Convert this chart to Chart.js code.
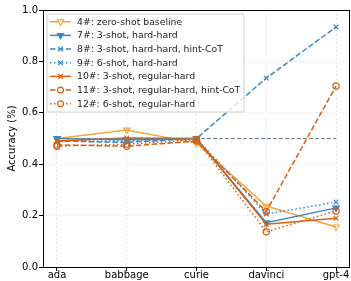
<!DOCTYPE html>
<html>
<head>
<meta charset="utf-8">
<script src="https://cdn.jsdelivr.net/npm/chart.js@4"></script>
<style>
  body { margin: 0; background: #fff; }
  #wrap { width: 351px; height: 281px; }
</style>
</head>
<body>
<div id="wrap"><canvas id="chart"></canvas></div>
<script>
// models on the x axis
const models = ['ada', 'babbage', 'curie', 'davinci', 'gpt-4']
const yTicks = [0, 0.2, 0.4, 0.6, 0.8, 1.0]

// accuracy per setting
const zeroShot = [0.50, 0.533, 0.482, 0.237, 0.156]
const hardHard3 = [0.50, 0.495, 0.50, 0.172, 0.23]
const hardHard3Cot = [0.49, 0.485, 0.50, 0.735, 0.934]
const hardHard6 = [0.49, 0.49, 0.50, 0.206, 0.253]
const regHard3 = [0.49, 0.502, 0.50, 0.166, 0.19]
const regHard3Cot = [0.475, 0.47, 0.49, 0.216, 0.704]
const regHard6 = [0.47, 0.478, 0.495, 0.137, 0.218]
const chance = [0.5, 0.5, 0.5, 0.5, 0.5]

const seriesNames = [
  '4#: zero-shot baseline',
  '7#: 3-shot, hard-hard',
  '8#: 3-shot, hard-hard, hint-CoT',
  '9#: 6-shot, hard-hard',
  '10#: 3-shot, regular-hard',
  '11#: 3-shot, regular-hard, hint-CoT',
  '12#: 6-shot, regular-hard'
]
const seriesValues = [zeroShot, hardHard3, hardHard3Cot, hardHard6, regHard3, regHard3Cot, regHard6]

const YELLOW = '#f0a938'
const BLUE = '#3a88c8'
const ORANGE = '#d9600f'
const DASHED = [5.5, 2.4]
const DOTTED = [1.5, 2.5]

const styles = [
  {color: YELLOW, dash: [], marker: 'tri', fill: false},
  {color: BLUE, dash: [], marker: 'tri', fill: true},
  {color: BLUE, dash: DASHED, marker: 'x'},
  {color: BLUE, dash: DOTTED, marker: 'x'},
  {color: ORANGE, dash: [], marker: 'x'},
  {color: ORANGE, dash: DASHED, marker: 'o'},
  {color: ORANGE, dash: DOTTED, marker: 'o'}
]

function toPoints(vals){
  return vals.map((v, i) => ({x: i, y: v}))
}

function pointOpts(st){
  if (st.marker == 'tri') {
    return {pointStyle: 'triangle', pointRotation: 180, pointRadius: 3.8,
      pointBackgroundColor: st.fill ? st.color : 'rgba(255,255,255,0)', pointBorderWidth: 1.1}
  }
  if (st.marker == 'x') {
    return {pointStyle: 'crossRot', pointRotation: 0, pointRadius: 3.3,
      pointBackgroundColor: st.color, pointBorderWidth: 1.2}
  }
  return {pointStyle: 'circle', pointRotation: 0, pointRadius: 3.1,
    pointBackgroundColor: 'rgba(255,255,255,0)', pointBorderWidth: 1.2}
}

const datasets = seriesValues.map((vals, i) => {
  const st = styles[i]
  return Object.assign({
    label: seriesNames[i],
    data: toPoints(vals),
    borderColor: st.color,
    borderWidth: 1.5,
    borderDash: st.dash,
    pointBorderColor: st.color,
    tension: 0,
    order: seriesValues.length - i + 1
  }, pointOpts(st))
})

datasets.push({
  label: 'chance',
  data: toPoints(chance),
  borderColor: '#6e7f8f',
  borderWidth: 1,
  borderDash: [4, 2],
  pointRadius: 0,
  order: 0
})

function drawMarker(ctx, st, x, y){
  ctx.save()
  ctx.setLineDash([])
  ctx.strokeStyle = st.color
  ctx.fillStyle = st.color
  if (st.marker == 'tri') {
    const r = 3.6
    ctx.lineWidth = 1.1
    ctx.beginPath()
    ctx.moveTo(x - r * 0.866, y - r * 0.5)
    ctx.lineTo(x + r * 0.866, y - r * 0.5)
    ctx.lineTo(x, y + r)
    ctx.closePath()
    ctx.fillStyle = st.fill ? st.color : '#fff'
    ctx.fill()
    ctx.stroke()
  } else if (st.marker == 'x') {
    const r = 2.4
    ctx.lineWidth = 1.2
    ctx.beginPath()
    ctx.moveTo(x - r, y - r); ctx.lineTo(x + r, y + r)
    ctx.moveTo(x - r, y + r); ctx.lineTo(x + r, y - r)
    ctx.stroke()
  } else {
    ctx.lineWidth = 1.2
    ctx.beginPath()
    ctx.arc(x, y, 2.9, 0, Math.PI * 2)
    ctx.fillStyle = '#fff'
    ctx.fill()
    ctx.stroke()
  }
  ctx.restore()
}

// matplotlib style frame + legend inside the axes
const framePlugin = {
  id: 'frameAndLegend',
  afterDraw(chart){
    const ctx = chart.ctx
    const a = chart.chartArea
    ctx.save()
    ctx.strokeStyle = '#000'
    ctx.lineWidth = 1
    ctx.setLineDash([])
    ctx.strokeRect(Math.round(a.left) + 0.5, Math.round(a.top) + 0.5,
      Math.round(a.right - a.left) - 1, Math.round(a.bottom - a.top))

    const bx = 47, by = 14, bw = 197, bh = 98, rad = 2
    ctx.beginPath()
    ctx.moveTo(bx + rad, by)
    ctx.arcTo(bx + bw, by, bx + bw, by + bh, rad)
    ctx.arcTo(bx + bw, by + bh, bx, by + bh, rad)
    ctx.arcTo(bx, by + bh, bx, by, rad)
    ctx.arcTo(bx, by, bx + bw, by, rad)
    ctx.closePath()
    ctx.fillStyle = 'rgba(255,255,255,0.8)'
    ctx.fill()
    ctx.strokeStyle = '#d0d0d0'
    ctx.lineWidth = 1
    ctx.stroke()

    ctx.font = '9.3px "DejaVu Sans"'
    ctx.textBaseline = 'middle'
    ctx.textAlign = 'left'
    seriesNames.forEach((name, i) => {
      const st = styles[i]
      const y = 21.7 + i * 13.67
      ctx.save()
      ctx.strokeStyle = st.color
      ctx.lineWidth = 1.5
      ctx.setLineDash(st.dash)
      ctx.beginPath()
      ctx.moveTo(50, y)
      ctx.lineTo(71, y)
      ctx.stroke()
      ctx.restore()
      drawMarker(ctx, st, 60.5, y)
      ctx.fillStyle = '#222'
      ctx.fillText(name, 77, y + 0.5)
    })
    ctx.restore()
  }
}

const tickFont = {family: 'DejaVu Sans', size: 10}

new Chart(document.getElementById('chart'), {
  type: 'line',
  data: {datasets: datasets},
  plugins: [framePlugin],
  options: {
    responsive: true,
    maintainAspectRatio: false,
    animation: false,
    layout: {autoPadding: false, padding: {top: 10, right: 1, left: 0, bottom: 0}},
    plugins: {legend: {display: false}, tooltip: {enabled: false}},
    scales: {
      x: {
        type: 'linear',
        min: -0.2,
        max: 4.2,
        afterBuildTicks: s => { s.ticks = models.map((m, i) => ({value: i})) },
        afterFit: s => { s.height = 14; s.paddingLeft = 0; s.paddingRight = 0 },
        ticks: {
          font: tickFont, color: '#000', padding: -2, maxRotation: 0, autoSkip: false,
          callback: v => models[v]
        },
        grid: {color: '#e4e4e4', lineWidth: 1, tickLength: 4, tickColor: '#000', tickBorderDash: []},
        border: {display: false, dash: [1.5, 2.5]}
      },
      y: {
        min: 0,
        max: 1,
        afterBuildTicks: s => { s.ticks = yTicks.map(v => ({value: v})) },
        afterFit: s => { s.width = 43; s.paddingTop = 0; s.paddingBottom = 0 },
        ticks: {font: tickFont, color: '#000', padding: 1, callback: v => v.toFixed(1)},
        title: {display: true, text: 'Accuracy (%)', font: tickFont, color: '#000', padding: {top: 6, bottom: 0}},
        grid: {color: '#e4e4e4', lineWidth: 1, tickLength: 4, tickColor: '#000', tickBorderDash: []},
        border: {display: false, dash: [1.5, 2.5]}
      }
    }
  }
})
</script>
</body>
</html>
